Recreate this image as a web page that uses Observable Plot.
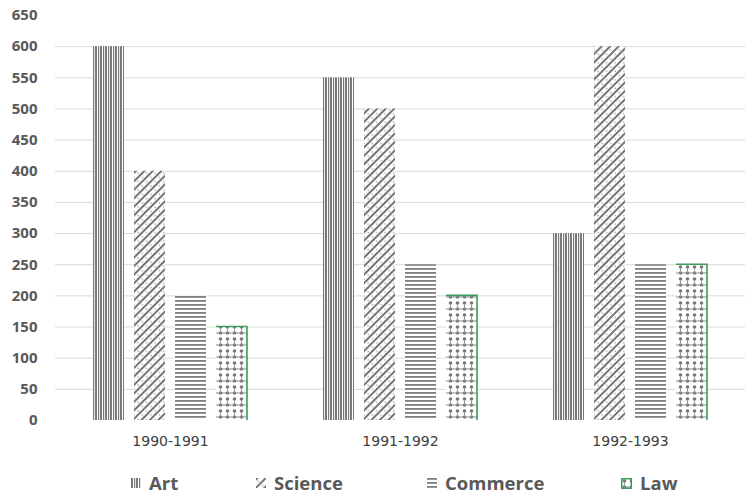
<!DOCTYPE html>
<html>
<head>
<meta charset="utf-8">
<script src="https://cdn.jsdelivr.net/npm/d3@7"></script>
<script src="https://cdn.jsdelivr.net/npm/@observablehq/plot@0.6"></script>
<style>
  html, body { margin: 0; padding: 0; background: #fff; }
  #wrap { position: relative; width: 750px; height: 497px; }
  .leg { position: absolute; top: 473px; height: 20px; line-height: 20px; display: flex; align-items: center;
         font-family: "Open Sans", sans-serif; font-weight: 700; font-size: 18.5px; color: #595959; white-space: nowrap; }
  .leg svg { margin-right: 8px; }
</style>
</head>
<body>
<div id="wrap">
<svg width="0" height="0" style="position:absolute">
  <defs>
    <pattern id="p-art" patternUnits="userSpaceOnUse" width="5" height="10">
      <rect x="0" y="0" width="5" height="10" fill="#ffffff"/>
      <rect x="0" y="0" width="2" height="10" fill="#7a7a7a"/>
      <rect x="3" y="0" width="1.2" height="10" fill="#7a7a7a"/>
    </pattern>
    <pattern id="p-science" patternUnits="userSpaceOnUse" width="6" height="6" patternTransform="rotate(45)">
      <rect x="0" y="0" width="6" height="6" fill="#ffffff"/>
      <rect x="0" y="0" width="1.9" height="6" fill="#6e6e6e"/>
      <rect x="3.6" y="0" width="1.1" height="1.4" fill="#8a8a8a"/>
    </pattern>
    <pattern id="p-commerce" patternUnits="userSpaceOnUse" width="6" height="4">
      <rect x="0" y="0" width="6" height="4" fill="#ffffff"/>
      <rect x="0" y="0" width="6" height="1.8" fill="#7f7f7f"/>
    </pattern>
    <pattern id="p-law" patternUnits="userSpaceOnUse" width="7" height="12">
      <rect x="0" y="0" width="7" height="12" fill="#ffffff"/>
      <circle cx="3.5" cy="3" r="1.8" fill="#777777"/>
      <circle cx="3.5" cy="9" r="1.8" fill="#777777"/>
      <rect x="0" y="8.5" width="7" height="1" fill="#8a8a8a"/>
      <rect x="3" y="5" width="1" height="2" fill="#9a9a9a"/>
    </pattern>
  </defs>
</svg>
<div id="chart"></div>
<div class="leg" style="left:131px"><svg width="10" height="10"><rect width="10" height="10" fill="url(#p-art)"/></svg>Art</div>
<div class="leg" style="left:256px"><svg width="10" height="10"><rect width="10" height="10" fill="url(#p-science)"/></svg>Science</div>
<div class="leg" style="left:427px"><svg width="10" height="10"><rect width="10" height="10" fill="url(#p-commerce)"/></svg>Commerce</div>
<div class="leg" style="left:621px"><svg width="11" height="11"><rect x="0.75" y="0.75" width="9.5" height="9.5" fill="url(#p-law)" stroke="#3a9d5d" stroke-width="1.5"/></svg>Law</div>
</div>
<script>
const periods = ["1990-1991", "1991-1992", "1992-1993"];
const seriesNames = ["Art", "Science", "Commerce", "Law"];
const artValues = [600, 550, 300];
const scienceValues = [400, 500, 600];
const commerceValues = [200, 250, 250];
const lawValues = [150, 200, 250];
const yTicks = [0, 50, 100, 150, 200, 250, 300, 350, 400, 450, 500, 550, 600, 650];
const gridTicks = [50, 100, 150, 200, 250, 300, 350, 400, 450, 500, 550, 600];
const patternFills = ["url(#p-art)", "url(#p-science)", "url(#p-commerce)", "url(#p-law)"];
const lawStroke = "#3a9d5d";

const seriesValues = [artValues, scienceValues, commerceValues, lawValues];
const data = periods.flatMap((p, i) =>
  seriesNames.map((s, j) => ({period: p, series: s, value: seriesValues[j][i]}))
);

const chart = Plot.plot({
  width: 750,
  height: 462,
  marginLeft: 55,
  marginRight: 5,
  marginTop: 15,
  marginBottom: 42,
  style: {fontFamily: "Open Sans, sans-serif", background: "#fff"},
  fx: {domain: periods, padding: 0, label: null},
  x: {domain: seriesNames, paddingInner: 0.24, paddingOuter: 0.86, axis: null},
  y: {domain: [0, 650], label: null},
  color: {domain: seriesNames, range: patternFills},
  marks: [
    Plot.ruleY(gridTicks, {stroke: "#d9d9d9", strokeWidth: 1}),
    Plot.barY(data, {fx: "period", x: "series", y: "value", fill: "series"}),
    Plot.barY(data.filter(d => d.series === "Law"), {fx: "period", x: "series", y: "value", fill: "none", stroke: lawStroke, strokeWidth: 1.6}),
    Plot.axisY({ticks: yTicks, tickSize: 0, tickPadding: 18, fontSize: 15, fontWeight: 700, fill: "#595959", label: null}),
    Plot.axisFx({anchor: "bottom", tickSize: 0, tickPadding: 16, fontSize: 14, fill: "#404040", fontFamily: "DejaVu Sans, sans-serif", label: null})
  ]
});
document.getElementById("chart").appendChild(chart);

// outline only the top and right edges of the Law bars
d3.select(chart).selectAll("rect").each(function() {
  let el = this, stroke = null;
  while (el && el !== chart) {
    const s = el.getAttribute && el.getAttribute("stroke");
    if (s) { stroke = s; break; }
    el = el.parentNode;
  }
  if (stroke !== lawStroke) return;
  const r = d3.select(this);
  const w = +r.attr("width"), h = +r.attr("height");
  r.attr("stroke-dasharray", `${w + h} ${w + h + 10}`);
});
</script>
</body>
</html>
